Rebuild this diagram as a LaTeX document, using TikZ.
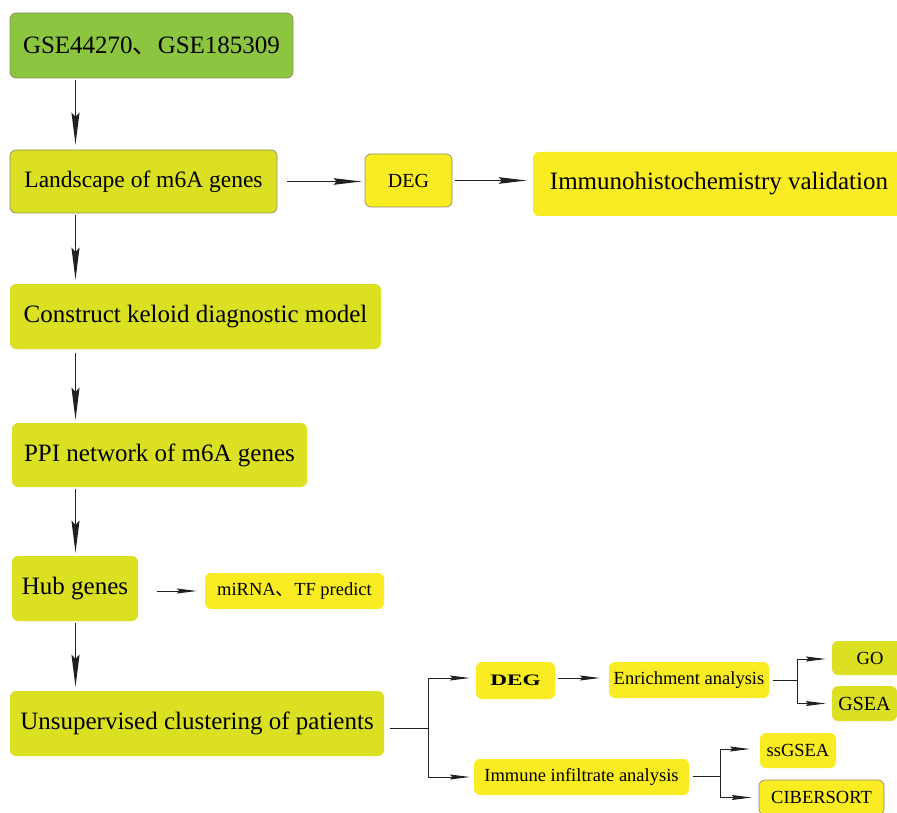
\documentclass[tikz,border=0pt]{standalone}
\usepackage{fontspec}
\usepackage{graphicx}
\setmainfont{Liberation Serif}
\newfontfamily\cjk{Noto Sans CJK SC}
\usetikzlibrary{arrows.meta}
\definecolor{cgreen}{HTML}{8CC640}
\definecolor{cyg}{HTML}{DBE022}
\definecolor{cyel}{HTML}{F9EC22}
\definecolor{cline}{HTML}{231F20}
\definecolor{cbord}{HTML}{8E8E6A}
\begin{document}
\begin{tikzpicture}[x=1pt,y=-1pt,
  box/.style={rounded corners=6pt, inner sep=0pt, align=center, text=black},
  bord/.style={draw=cbord, line width=0.7pt},
  big/.style={font=\fontsize{25}{30}\selectfont},
  small/.style={font=\fontsize{18.5}{22}\selectfont},
  arrbig/.style={draw=cline, line width=1.8pt, -{Stealth[length=32pt,width=8pt,inset=4pt]}},
  arrmid/.style={draw=cline, line width=1.5pt, -{Stealth[length=28pt,width=6.5pt,inset=3pt]}},
  arrsm/.style={draw=cline, line width=1pt, -{Stealth[length=20pt,width=5pt,inset=2.5pt]}},
  lnsm/.style={draw=cline, line width=1pt}
]
\useasboundingbox (0,0) rectangle (897,813);

% main column
\node[box, bord, big, fill=cgreen, minimum width=283, minimum height=65] (gse) at (151.5,45.5) {GSE44270{\cjk 、}GSE185309};
\node[box, bord, fill=cyg, minimum width=267, minimum height=63, font=\fontsize{23.5}{28}\selectfont] (land) at (143.5,181.5) {Landscape of m6A genes};
\node[box, bord, fill=cyel, minimum width=87, minimum height=53, font=\fontsize{20}{24}\selectfont] (deg1) at (408.5,180.5) {DEG};
\node[box, big, fill=cyel, minimum width=372, minimum height=64] (ihc) at (719,184) {Immunohistochemistry validation};
\node[box, big, fill=cyg, minimum width=371, minimum height=65] (cons) at (195.5,316.5) {Construct keloid diagnostic model};
\node[box, big, fill=cyg, minimum width=295, minimum height=64] (ppi) at (159.5,455) {PPI network of m6A genes};
\node[box, big, fill=cyg, minimum width=126, minimum height=65] (hub) at (75,588.5) {Hub genes};
\node[box, small, fill=cyel, minimum width=179, minimum height=36] (mir) at (294.5,591) {miRNA{\cjk 、}TF predict};
\node[box, big, fill=cyg, minimum width=374, minimum height=65] (unsup) at (197,723.5) {Unsupervised clustering of patients};

% bottom branch
\node[box, fill=cyel, minimum width=79, minimum height=37, font=\fontsize{16}{20}\selectfont\bfseries] (deg2) at (515.5,680.5) {\scalebox{1.45}[1]{DEG}};
\node[box, small, fill=cyel, minimum width=160, minimum height=36] (enr) at (689,680) {Enrichment analysis};
\node[box, small, fill=cyg, minimum width=76, minimum height=34] (go) at (870,658) {GO};
\node[box, fill=cyg, minimum width=65, minimum height=35, font=\fontsize{20}{24}\selectfont] (gsea) at (864.5,703.5) {GSEA};
\node[box, small, fill=cyel, minimum width=215, minimum height=36] (imm) at (581.5,777) {Immune infiltrate analysis};
\node[box, small, fill=cyel, minimum width=76, minimum height=35] (ssg) at (798,750.5) {ssGSEA};
\node[box, bord, small, fill=cyel, minimum width=125, minimum height=35] (cib) at (821.5,797.5) {CIBERSORT};

% spine
\coordinate (sp) at (75.5,0);
\draw[arrbig, shorten <=2pt, shorten >=5pt] (gse.south -| sp) -- (land.north -| sp);
\draw[arrbig, shorten <=2pt, shorten >=4pt] (land.south -| sp) -- (cons.north -| sp);
\draw[arrbig, shorten <=4pt, shorten >=3pt] (cons.south -| sp) -- (ppi.north -| sp);
\draw[arrbig, shorten <=2pt, shorten >=3pt] (ppi.south -| sp) -- (hub.north -| sp);
\draw[arrbig, shorten <=2pt, shorten >=4pt] (hub.south -| sp) -- (unsup.north -| sp);

% horizontal top
\draw[arrmid, shorten <=10pt, shorten >=3pt] (land.east) -- (land.east -| deg1.west);
\draw[arrmid, shorten <=3pt, shorten >=6pt] (deg1.east) -- (deg1.east -| ihc.west);
\draw[arrsm, shorten <=19pt, shorten >=8pt] (mir.west -| hub.east) -- (mir.west);

% bottom connectors
\coordinate (b1) at (428,728);
\draw[lnsm, shorten <=6pt] (unsup.east |- b1) -- (b1);
\draw[arrsm, shorten >=6pt] (b1) |- ([yshift=2.5]deg2.west);
\draw[arrsm, shorten >=4pt] (b1) |- (imm.west);
\draw[arrsm, shorten <=3pt, shorten >=9pt] ([yshift=2.5]deg2.east) -- ([yshift=2.5]deg2.east -| enr.west);

\coordinate (b2) at (797,680);
\draw[lnsm, shorten <=4pt] (enr.east) -- (b2);
\draw[arrsm, shorten >=6pt] (b2) |- ([yshift=-1]go.west);
\draw[arrsm, shorten >=6pt] (b2) |- (gsea.west);

\coordinate (b3) at (720,776);
\draw[lnsm, shorten <=4pt] (imm.east |- b3) -- (b3);
\draw[arrsm, shorten >=10pt] (b3) |- ([yshift=1.5]ssg.west);
\draw[arrsm, shorten >=7pt] (b3) |- (cib.west);
\end{tikzpicture}
\end{document}
